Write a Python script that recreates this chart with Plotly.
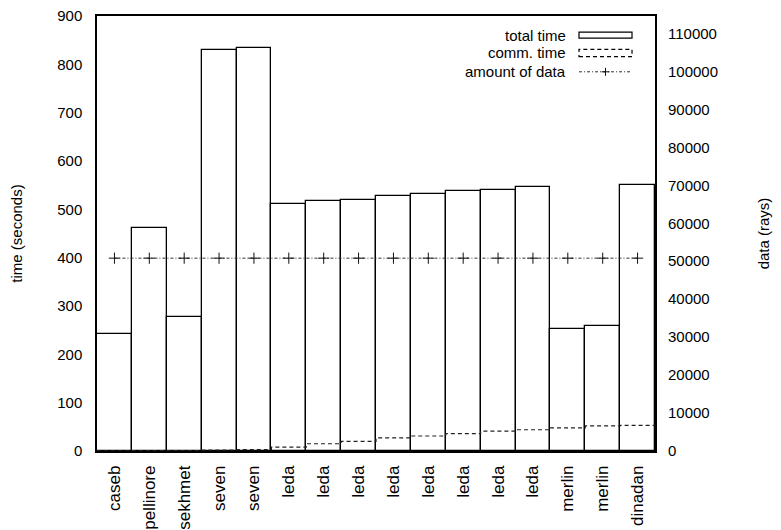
import plotly.graph_objects as go

hosts = ["caseb", "pellinore", "sekhmet", "seven", "seven", "leda", "leda", "leda",
         "leda", "leda", "leda", "leda", "leda", "merlin", "merlin", "dinadan"]
total_time = [242, 461, 277, 829, 834, 511, 517, 520, 528, 531, 537, 541, 547, 253, 258, 550]
comm_time = [0.5, 1, 1, 2, 3, 8, 15, 20, 27, 31, 36, 41, 44, 48, 52, 53]
data_rays = [50800] * 16

idx = list(range(len(hosts)))
edges = [i - 0.5 for i in idx] + [idx[-1] + 0.5]

FONT = "Liberation Sans, Arial, sans-serif"
FS = 15

fig = go.Figure()
fig.add_trace(go.Bar(
    x=idx, y=total_time, width=1.0,
    marker=dict(color="white", line=dict(color="black", width=1.3)),
    showlegend=False,
))
fig.add_trace(go.Scatter(
    x=edges, y=comm_time + [comm_time[-1]], mode="lines",
    line=dict(shape="hv", dash="4px,3px", color="#222", width=1.2),
    showlegend=False,
))
fig.add_trace(go.Scatter(
    x=idx, y=data_rays, yaxis="y2", mode="lines+markers",
    line=dict(color="#333", width=1, dash="3px,2px,1px,2px"),
    marker=dict(symbol="cross-thin", size=8, line=dict(color="#111", width=1)),
    showlegend=False,
))

# legend drawn in gnuplot style (text left, sample right)
x_text = 0.8442
x0, x1 = 0.8638, 0.9588
ann = []
shapes = []
for label, yc in [("total time", 0.956), ("comm. time", 0.9154), ("amount of data", 0.8717)]:
    ann.append(dict(x=x_text, y=yc, xref="paper", yref="paper", text=label,
                    showarrow=False, xanchor="right", yanchor="middle",
                    font=dict(family=FONT, size=FS, color="black")))
shapes.append(dict(type="rect", xref="paper", yref="paper", x0=x0, x1=x1, y0=0.9493, y1=0.9631,
                   line=dict(color="black", width=1.2), fillcolor="white"))
shapes.append(dict(type="rect", xref="paper", yref="paper", x0=x0, x1=x1, y0=0.9065, y1=0.9233,
                   line=dict(color="black", width=1.2, dash="4px,3px"), fillcolor="white"))
shapes.append(dict(type="line", xref="paper", yref="paper", x0=x0, x1=x1, y0=0.8717, y1=0.8717,
                   line=dict(color="#333", width=1, dash="3px,2px,1px,2px")))
xm = (x0 + x1) / 2
shapes.append(dict(type="line", xref="paper", yref="paper", x0=xm - 0.0072, x1=xm + 0.0072,
                   y0=0.8717, y1=0.8717, line=dict(color="#111", width=1)))
shapes.append(dict(type="line", xref="paper", yref="paper", x0=xm, x1=xm,
                   y0=0.8717 - 0.0092, y1=0.8717 + 0.0092, line=dict(color="#111", width=1)))

fig.update_layout(
    width=781, height=530,
    margin=dict(l=89, r=134, t=8, b=87),
    plot_bgcolor="white", paper_bgcolor="white",
    font=dict(family=FONT, size=FS, color="black"),
    bargap=0,
    annotations=ann, shapes=shapes,
    xaxis=dict(range=[-0.5, 15.5], tickvals=idx, ticktext=hosts, tickangle=-90,
               showline=True, mirror=True, linecolor="black", linewidth=1.5,
               showgrid=False, zeroline=False, ticks="", ticklabelstandoff=6,
               automargin=False, ticklabeloverflow="allow", tickfont=dict(size=17)),
    yaxis=dict(range=[0, 900], dtick=100, showline=True, mirror=True, linecolor="black",
               linewidth=1.5, showgrid=False, zeroline=False, ticks="", ticklabelstandoff=10,
               automargin=False, ticklabeloverflow="allow",
               title=dict(text="time (seconds)", standoff=31, font=dict(size=FS))),
    yaxis2=dict(range=[0, 114600], dtick=10000, overlaying="y", side="right",
                tickformat="d", automargin=False, ticklabeloverflow="allow",
                showline=False, showgrid=False, zeroline=False, ticks="", ticklabelstandoff=12,
                title=dict(text="data (rays)", standoff=41, font=dict(size=FS))),
)

fig.write_html("out.html")
